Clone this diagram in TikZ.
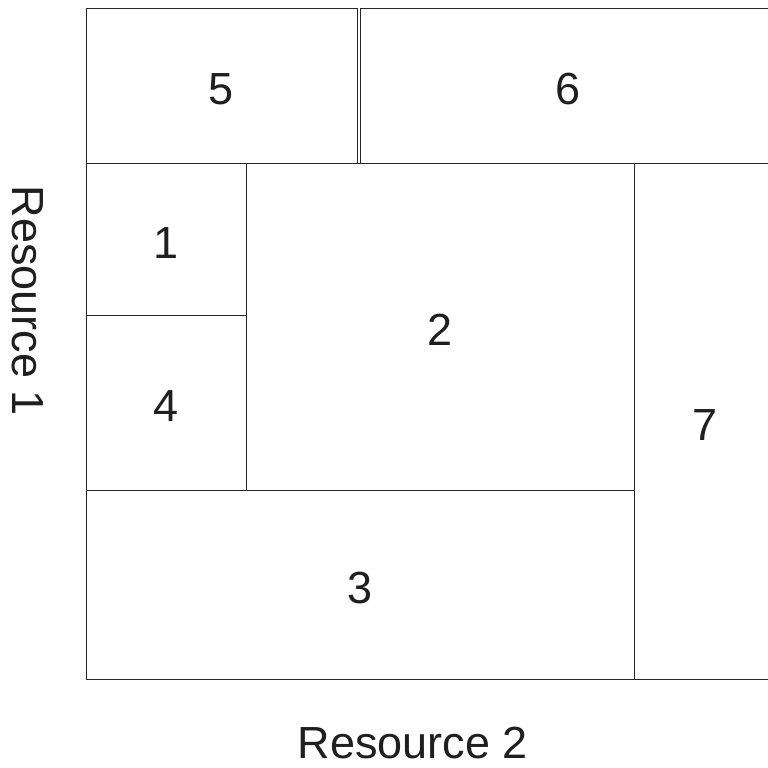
\documentclass[tikz,border=0pt]{standalone}
\usepackage{fontspec}
\setmainfont{Liberation Sans}
\newcommand{\bigtxt}{\fontsize{45}{54}\selectfont}
\begin{document}
\begin{tikzpicture}[x=1pt,y=-1pt,
  cell/.style={draw=black!85, line width=1pt, inner sep=0pt, outer sep=0pt, font=\bigtxt, text=black!88, text height=38pt},
  axislabel/.style={inner sep=0pt, font=\bigtxt, text=black!88}]
\useasboundingbox (0,0) rectangle (768,768);
\clip (0,0) rectangle (768,768);
\node[cell, minimum width=271pt, minimum height=154pt] (b5) at (221.5,86) {5};
\node[cell, minimum width=417pt, minimum height=154pt] (b6) at (568.5,86) {6};
\node[cell, minimum width=160pt, minimum height=152pt] (b1) at (166,239) {1};
\node[cell, minimum width=160pt, minimum height=175pt] (b4) at (166,402.5) {4};
\node[cell, minimum width=388pt, minimum height=327pt] (b2) at (440,326.5) {2};
\node[cell, minimum width=548pt, minimum height=189pt] (b3) at (360,584.5) {3};
\node[cell, minimum width=143pt, minimum height=516pt] (b7) at (705.5,421) {7};
\node[axislabel] (r2) at (413,743) {Resource 2};
\node[axislabel, rotate=-90] (r1) at (28,301) {Resource 1};
\end{tikzpicture}
\end{document}
